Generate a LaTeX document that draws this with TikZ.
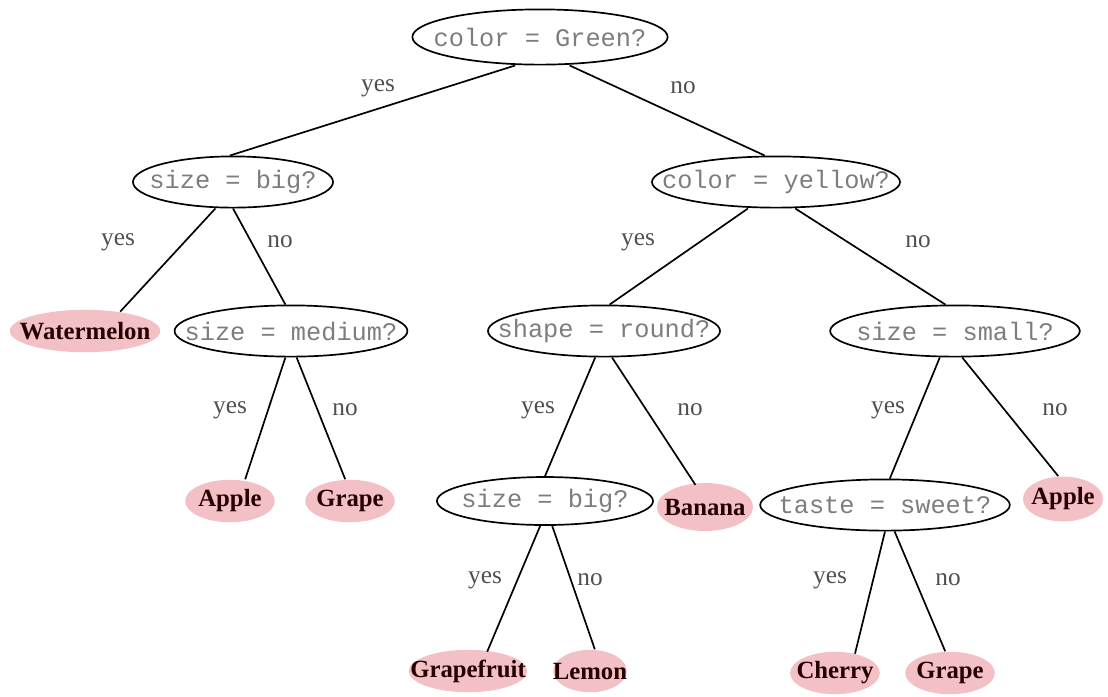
\documentclass[tikz,border=0pt]{standalone}
\usepackage{fontspec}
\setmainfont{Liberation Serif}
\setmonofont{Liberation Mono}
\usetikzlibrary{shapes.geometric}
\definecolor{leafpink}{RGB}{242,192,197}
\definecolor{asktext}{RGB}{125,125,125}
\definecolor{edgetext}{RGB}{80,80,80}

\begin{document}
\begin{tikzpicture}[
        x=0.0125cm, y=-0.0125cm,
        ask/.style={
            draw,
            ellipse,
            line width=0.6pt,
            minimum height=0.64cm,
            label={[font=\ttfamily\fontsize{9}{10}\selectfont, text=asktext]center:#1}
        },
        leaf/.style={
            ellipse,
            fill=leafpink,
            minimum height=0.53cm,
            label={[font=\bfseries\fontsize{8.8}{10}\selectfont, text=black!85!red]center:#1}
        },
        lbl/.style={font=\fontsize{9}{10}\selectfont, text=edgetext},
        edge/.style={line width=0.6pt}
    ]
        \useasboundingbox (0,0) rectangle (1108,696);

        % questions
        \node[ask={color = Green?}, minimum width=3.19cm, minimum height=0.69cm] (root) at (540,37) {};
        \node[ask={size = big?}, minimum width=2.5cm] (big) at (233,182) {};
        \node[ask={color = yellow?}, minimum width=3.1cm] (yellow) at (776,182) {};
        \node[ask={size = medium?}, minimum width=2.91cm] (medium) at (291,331) {};
        \node[ask={shape = round?}, minimum width=2.9cm] (round) at (604,331) {};
        \node[ask={size = small?}, minimum width=3.12cm] (small) at (955,331) {};
        \node[ask={size = big?}, minimum width=2.7cm, minimum height=0.6cm] (bigtwo) at (545,501) {};
        \node[ask={taste = sweet?}, minimum width=3.12cm] (sweet) at (885,505) {};

        % fruits
        \node[leaf=Watermelon, minimum width=1.88cm] (melon) at (85,331) {};
        \node[leaf=Apple, minimum width=1.12cm] (appleone) at (230,501) {};
        \node[leaf=Grape, minimum width=1.12cm] (grapeone) at (350,501) {};
        \node[leaf=Banana, minimum width=1.2cm, minimum height=0.6cm] (banana) at (705,507) {};
        \node[leaf=Apple, minimum width=1.0cm, minimum height=0.56cm] (appletwo) at (1063,499) {};
        \node[leaf=Grapefruit, minimum width=1.48cm] (grapefruit) at (468,671) {};
        \node[leaf=Lemon, minimum width=0.92cm] (lemon) at (590,671) {};
        \node[leaf=Cherry, minimum width=1.12cm] (cherry) at (835,673) {};
        \node[leaf=Grape, minimum width=1.12cm] (grapetwo) at (950,673) {};

        % branches
        \draw[edge] ([xshift=-0.31cm]root.south) -- ([xshift=-0.04cm]big.north);
        \draw[edge] ([xshift=0.37cm]root.south) -- ([xshift=-0.14cm]yellow.north);
        \draw[edge] ([xshift=-0.22cm]big.south) -- ([xshift=0.44cm,yshift=-0.03cm]melon.north);
        \draw[edge] (big.south) -- ([xshift=-0.07cm]medium.north);
        \draw[edge] ([xshift=-0.35cm]yellow.south) -- ([xshift=0.07cm]round.north);
        \draw[edge] ([xshift=0.24cm]yellow.south) -- ([xshift=-0.12cm]small.north);
        \draw[edge] ([xshift=-0.07cm]medium.south) -- ([xshift=0.19cm]appleone.north);
        \draw[edge] ([xshift=0.07cm]medium.south) -- ([xshift=-0.06cm]grapeone.north);
        \draw[edge] ([xshift=-0.11cm]round.south) -- (bigtwo.north);
        \draw[edge] ([xshift=0.1cm]round.south) -- ([xshift=-0.12cm,yshift=-0.03cm]banana.north);
        \draw[edge] ([xshift=-0.19cm]small.south) -- ([xshift=0.06cm]sweet.north);
        \draw[edge] ([xshift=0.09cm]small.south) -- ([xshift=-0.06cm]appletwo.north);
        \draw[edge] ([xshift=-0.06cm]bigtwo.south) -- ([xshift=0.24cm,yshift=-0.03cm]grapefruit.north);
        \draw[edge] ([xshift=0.09cm]bigtwo.south) -- ([xshift=0.06cm]lemon.north);
        \draw[edge] (sweet.south) -- ([xshift=0.25cm,yshift=-0.03cm]cherry.north);
        \draw[edge] ([xshift=0.12cm]sweet.south) -- ([xshift=-0.06cm]grapetwo.north);

        % answers
        \node[lbl] (rootyes) at (378,88) {yes};
        \node[lbl] (rootno) at (683,88) {no};
        \node[lbl] (bigyes) at (118,242) {yes};
        \node[lbl] (bigno) at (280,242) {no};
        \node[lbl] (yellowyes) at (638,242) {yes};
        \node[lbl] (yellowno) at (918,242) {no};
        \node[lbl] (mediumyes) at (230,410) {yes};
        \node[lbl] (mediumno) at (345,410) {no};
        \node[lbl] (roundyes) at (538,410) {yes};
        \node[lbl] (roundno) at (690,410) {no};
        \node[lbl] (smallyes) at (888,410) {yes};
        \node[lbl] (smallno) at (1055,410) {no};
        \node[lbl] (bigtwoyes) at (485,580) {yes};
        \node[lbl] (bigtwono) at (590,580) {no};
        \node[lbl] (sweetyes) at (830,580) {yes};
        \node[lbl] (sweetno) at (948,580) {no};
    \end{tikzpicture}
\end{document}
